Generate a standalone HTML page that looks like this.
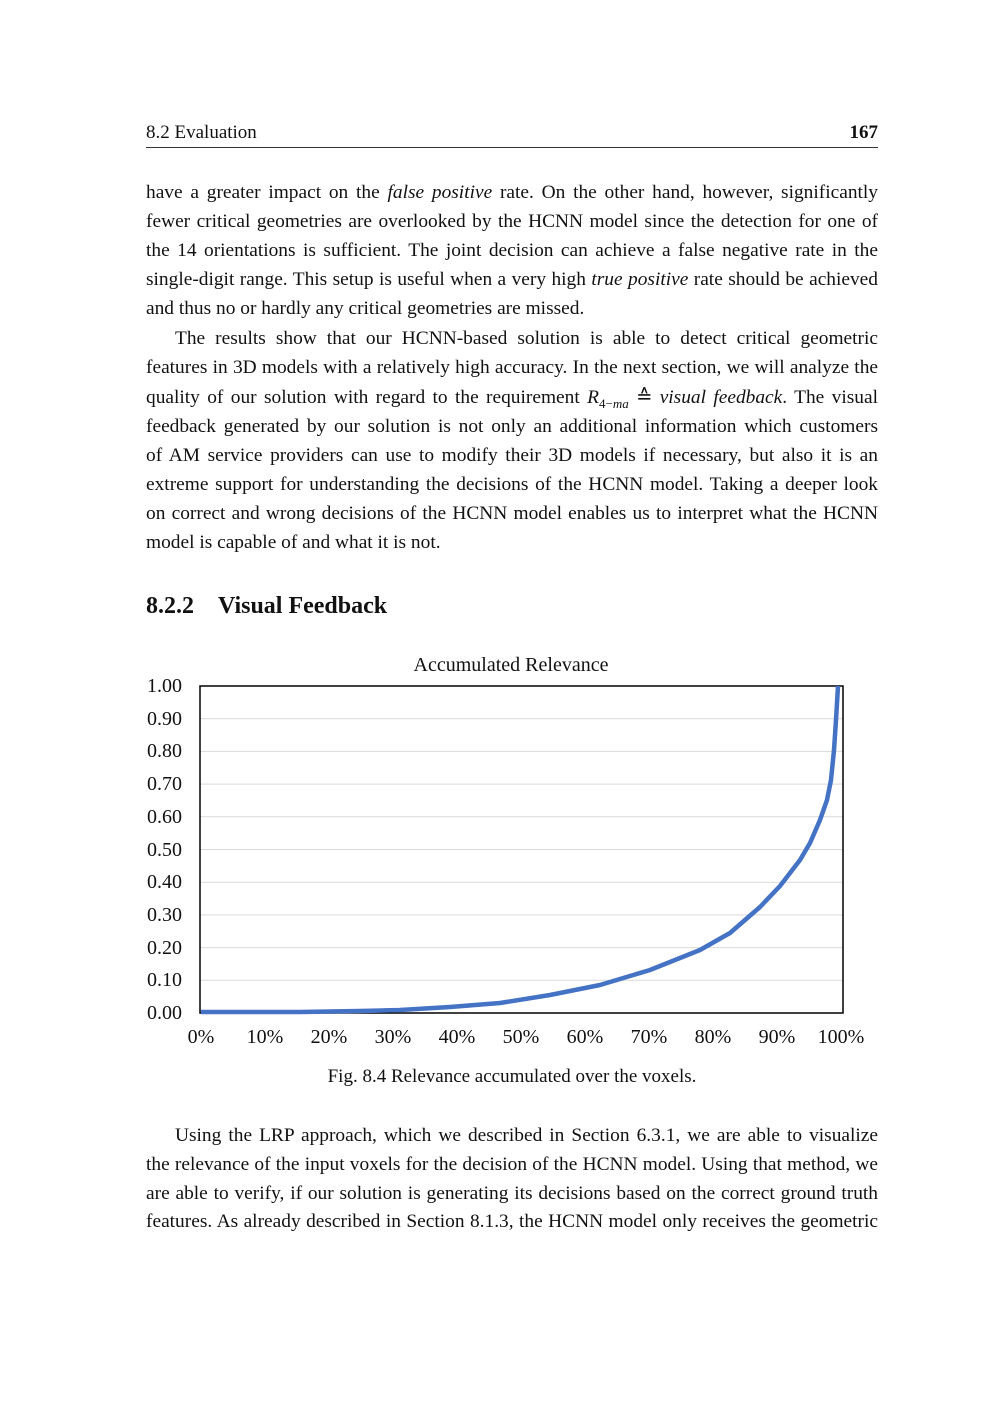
<!DOCTYPE html>
<html><head><meta charset="utf-8"><style>
body{margin:0;background:#fff;}
#p{position:relative;width:1000px;height:1414px;font-family:"Liberation Serif",serif;color:#111;}
.l{position:absolute;left:146px;width:732px;font-size:19.4px;line-height:24px;text-align:justify;text-align-last:justify;white-space:nowrap;}
.l.e{text-align-last:left;}
</style></head><body><div id="p">
<div class="l e" style="top:121px;font-size:19px">8.2 Evaluation</div>
<div class="l" style="top:121px;text-align:right;text-align-last:right;font-weight:bold;font-size:19px">167</div>
<div style="position:absolute;left:146px;top:147px;width:732px;height:1px;background:#333"></div>

<div class="l" style="top:181px">have a greater impact on the <i>false positive</i> rate. On the other hand, however, significantly</div>
<div class="l" style="top:210px">fewer critical geometries are overlooked by the HCNN model since the detection for one of</div>
<div class="l" style="top:239px">the 14 orientations is sufficient. The joint decision can achieve a false negative rate in the</div>
<div class="l" style="top:268px">single-digit range. This setup is useful when a very high <i>true positive</i> rate should be achieved</div>
<div class="l e" style="top:297px">and thus no or hardly any critical geometries are missed.</div>
<div class="l" style="top:327px;left:175px;width:703px">The results show that our HCNN-based solution is able to detect critical geometric</div>
<div class="l" style="top:356px">features in 3D models with a relatively high accuracy. In the next section, we will analyze the</div>
<div class="l" style="top:386px">quality of our solution with regard to the requirement <i>R</i><sub style="font-size:13px">4−<i>ma</i></sub> ≙ <i>visual feedback</i>. The visual</div>
<div class="l" style="top:415px">feedback generated by our solution is not only an additional information which customers</div>
<div class="l" style="top:444px">of AM service providers can use to modify their 3D models if necessary, but also it is an</div>
<div class="l" style="top:473px">extreme support for understanding the decisions of the HCNN model. Taking a deeper look</div>
<div class="l" style="top:502px">on correct and wrong decisions of the HCNN model enables us to interpret what the HCNN</div>
<div class="l e" style="top:531px">model is capable of and what it is not.</div>

<div class="l e" style="top:594px;font-size:24px;font-weight:bold">8.2.2&nbsp;&nbsp;&nbsp;&nbsp;Visual Feedback</div>

<svg style="position:absolute;left:0;top:640px" width="1000" height="420" font-family="Liberation Serif, serif" font-size="20" fill="#111">
<text x="511" y="31" text-anchor="middle">Accumulated Relevance</text>
<g stroke="#d9d9d9" stroke-width="1">
<line x1="200" x2="843" y1="340.3" y2="340.3"/><line x1="200" x2="843" y1="307.6" y2="307.6"/><line x1="200" x2="843" y1="274.9" y2="274.9"/><line x1="200" x2="843" y1="242.2" y2="242.2"/><line x1="200" x2="843" y1="209.5" y2="209.5"/><line x1="200" x2="843" y1="176.8" y2="176.8"/><line x1="200" x2="843" y1="144.1" y2="144.1"/><line x1="200" x2="843" y1="111.4" y2="111.4"/><line x1="200" x2="843" y1="78.7" y2="78.7"/>
</g>
<rect x="200" y="46" width="643" height="327" fill="none" stroke="#000" stroke-width="1.5"/>
<g text-anchor="end">
<text x="182" y="52">1.00</text><text x="182" y="85">0.90</text><text x="182" y="117">0.80</text><text x="182" y="150">0.70</text><text x="182" y="183">0.60</text><text x="182" y="216">0.50</text><text x="182" y="248">0.40</text><text x="182" y="281">0.30</text><text x="182" y="314">0.20</text><text x="182" y="346">0.10</text><text x="182" y="379">0.00</text>
</g>
<g text-anchor="middle">
<text x="201" y="403">0%</text><text x="265" y="403">10%</text><text x="329" y="403">20%</text><text x="393" y="403">30%</text><text x="457" y="403">40%</text><text x="521" y="403">50%</text><text x="585" y="403">60%</text><text x="649" y="403">70%</text><text x="713" y="403">80%</text><text x="777" y="403">90%</text><text x="841" y="403">100%</text>
</g>
<path d="M201,372 L300,372 L360,371 L400,370 L450,367 L500,363 L550,355 L600,345 L650,330 L700,310 L730,293 L760,267 L780,246 L800,220 L810,203 L820,180 L827,160 L831,140 L834,110 L836,80 L838,46" fill="none" stroke="#4472c4" stroke-width="4.5" stroke-linejoin="round"/>
</svg>

<div class="l e" style="top:1065px;text-align:center;text-align-last:center;font-size:19px;left:146px">Fig. 8.4 Relevance accumulated over the voxels.</div>

<div class="l" style="top:1124px;left:175px;width:703px">Using the LRP approach, which we described in Section 6.3.1, we are able to visualize</div>
<div class="l" style="top:1153px">the relevance of the input voxels for the decision of the HCNN model. Using that method, we</div>
<div class="l" style="top:1182px">are able to verify, if our solution is generating its decisions based on the correct ground truth</div>
<div class="l" style="top:1210px">features. As already described in Section 8.1.3, the HCNN model only receives the geometric</div>
</div></body></html>
